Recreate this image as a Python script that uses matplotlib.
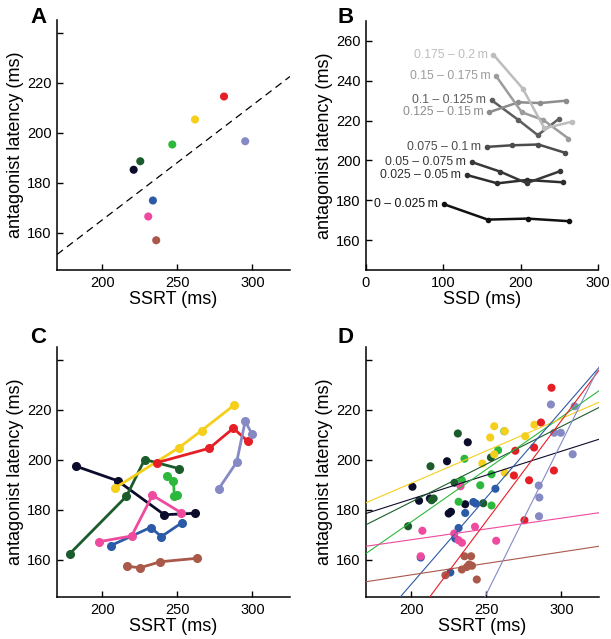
import numpy as np
import matplotlib.pyplot as plt

plt.rcParams['font.family'] = ['Liberation Sans', 'DejaVu Sans']

# subject order: black, dark green, green, yellow, blue, pink, brown, red, lavender
subject_colors = ['#0b0b2b', '#1c5c2c', '#2cb83c', '#f5cf1c', '#2b5aa6',
                  '#ee4a9e', '#a9584a', '#e61f26', '#8589c4']

# A: mean SSRT vs mean antagonist latency
mean_ssrt = [221.0, 225.4, 246.7, 261.8, 233.8, 230.7, 236.0, 281.1, 295.2]
mean_lat = [185.1, 188.5, 195.2, 205.2, 172.8, 166.4, 156.9, 214.4, 196.5]
diag_x = [170, 325]
diag_y = [151.2, 222.4]

# B: latency vs SSD per distance bin
bin_labels = ['0 – 0.025\u2009m', '0.025 – 0.05\u2009m', '0.05 – 0.075\u2009m', '0.075 – 0.1\u2009m',
              '0.1 – 0.125\u2009m', '0.125 – 0.15\u2009m', '0.15 – 0.175\u2009m', '0.175 – 0.2\u2009m']
bin_colors = ['#111111', '#2e2e2e', '#383838', '#4c4c4c', '#5e5e5e', '#8c8c8c', '#9c9c9c', '#bdbdbd']
ssd = [
    [100.9, 157.4, 209.1, 262.6],
    [130.2, 169.9, 207.8, 255.3],
    [136.7, 173.4, 207.8, 251.0],
    [156.1, 188.4, 222.9, 257.0],
    [162.6, 197.1, 222.1, 249.2],
    [159.1, 197.1, 225.1, 258.3],
    [168.2, 201.4, 229.4, 261.8],
    [164.7, 202.7, 230.7, 266.9],
]
bin_lat = [
    [178.0, 170.3, 170.8, 169.5],
    [192.7, 188.5, 190.2, 189.0],
    [199.2, 194.4, 188.6, 194.6],
    [206.8, 207.6, 208.0, 203.9],
    [230.2, 220.3, 212.7, 220.8],
    [224.2, 229.2, 228.8, 230.0],
    [242.4, 224.2, 220.3, 211.0],
    [253.1, 236.1, 216.1, 219.5],
]

# C: binned SSRT vs latency per subject
c_ssrt = [
    [182.7, 210.3, 241.4, 262.0],
    [178.5, 216.2, 228.3, 250.9],
    [243.0, 247.4, 248.1, 249.6],
    [208.3, 251.3, 266.2, 287.7],
    [205.9, 232.2, 239.5, 253.3],
    [197.8, 219.6, 233.5, 252.6],
    [216.4, 225.2, 238.8, 263.4],
    [236.2, 271.3, 287.3, 296.9],
    [277.6, 289.5, 295.2, 299.6],
]
c_lat = [
    [197.3, 191.5, 177.9, 178.5],
    [162.3, 185.3, 200.0, 196.4],
    [193.6, 191.6, 185.3, 185.7],
    [188.5, 204.8, 211.6, 221.7],
    [165.6, 172.8, 169.2, 174.8],
    [167.1, 169.4, 185.7, 178.7],
    [157.3, 156.7, 159.1, 160.5],
    [198.7, 204.5, 212.5, 207.3],
    [188.3, 198.9, 215.3, 210.3],
]

# D: single sessions with linear fits
d_ssrt = [
    [200.9, 205.3, 212.5, 223.9, 237.7, 236.0, 226.5, 225.0],
    [212.9, 231.1, 228.9, 213.6, 215.0, 198.0, 248.0, 253.1],
    [235.5, 233.8, 231.6, 246.0, 253.5, 253.5, 257.9, 262.0],
    [247.4, 252.6, 255.3, 255.3, 262.3, 262.3, 275.9, 282.0],
    [241.4, 236.0, 231.6, 229.4, 206.4, 226.1, 243.0, 256.1],
    [232.9, 207.5, 228.7, 231.6, 233.8, 206.4, 242.5, 256.6],
    [222.8, 235.5, 239.9, 233.8, 237.1, 238.6, 243.7, 240.5],
    [269.3, 268.4, 278.5, 281.8, 275.4, 286.4, 293.4, 295.0],
    [293.0, 295.2, 299.6, 284.9, 285.3, 285.1, 307.5, 308.8],
]
d_lat = [
    [189.1, 183.5, 184.4, 199.3, 206.9, 182.1, 179.1, 178.4],
    [197.3, 210.4, 190.7, 183.7, 184.4, 173.3, 182.5, 200.8],
    [200.3, 191.7, 183.1, 189.7, 181.6, 194.1, 203.7, 211.3],
    [198.4, 208.8, 213.3, 202.1, 211.3, 194.7, 209.3, 213.9],
    [183.0, 178.6, 172.6, 168.4, 160.8, 154.8, 182.4, 188.3],
    [189.3, 171.5, 170.4, 167.7, 166.7, 161.3, 173.1, 167.5],
    [153.7, 161.3, 161.3, 156.0, 157.0, 158.0, 152.0, 157.5],
    [203.5, 193.6, 191.7, 204.8, 175.7, 214.8, 228.7, 195.6],
    [222.0, 210.7, 210.7, 189.6, 184.8, 177.3, 202.1, 221.3],
]
fit_x = [170, 325]
fit_lo = [178.4, 173.9, 162.4, 182.7, 129.2, 165.3, 151.1, 110.9, 49.1]
fit_hi = [208.1, 220.8, 227.5, 222.9, 236.8, 178.7, 165.3, 235.7, 237.0]


def style(ax, xlim, ylim, xticks, yticks, ylabels, xlabel):
    ax.set_xlim(xlim)
    ax.set_ylim(ylim)
    ax.set_xticks(xticks)
    ax.set_yticks(yticks)
    ax.set_yticklabels(ylabels)
    ax.spines['top'].set_visible(False)
    ax.spines['right'].set_visible(False)
    for s in ['left', 'bottom']:
        ax.spines[s].set_linewidth(1.1)
    ax.tick_params(direction='in', length=4.5, width=1.0, labelsize=10.5, pad=4)
    ax.set_xlabel(xlabel, fontsize=13, labelpad=1)
    ax.set_ylabel('antagonist latency (ms)', fontsize=13, labelpad=2)


fig = plt.figure(figsize=(6.11, 6.39), dpi=100)
W, H = 611, 639
def add_ax(l, r, t, b):
    return fig.add_axes([l / W, 1 - b / H, (r - l) / W, (b - t) / H])

axA = add_ax(57, 290, 20, 270)
axB = add_ax(366, 598, 21, 270)
axC = add_ax(57, 290, 347, 597)
axD = add_ax(366, 599, 347, 597)

ssrt_ticks = [200, 250, 300]
lat_ticks = [160, 180, 200, 220, 240]
lat_labels = ['160', '180', '200', '220', '']

# A
axA.plot(diag_x, diag_y, '--', color='black', lw=0.9, dashes=(6, 4))
axA.scatter(mean_ssrt, mean_lat, s=34, c=subject_colors, edgecolors='none', zorder=3)
style(axA, (170, 325), (145, 245), ssrt_ticks, lat_ticks, lat_labels, 'SSRT (ms)')

# B
for i in range(len(bin_labels)):
    axB.plot(ssd[i], bin_lat[i], '-o', color=bin_colors[i], lw=1.8, ms=3)
    axB.annotate(bin_labels[i], (ssd[i][0], bin_lat[i][0]), xytext=(-4, 0),
                 textcoords='offset points', ha='right', va='center',
                 fontsize=8.8, color=bin_colors[i])
style(axB, (0, 300), (145, 270), [0, 100, 200, 300], [160, 180, 200, 220, 240, 260],
      ['160', '180', '200', '220', '240', '260'], 'SSD (ms)')

# C
for i in range(len(subject_colors)):
    axC.plot(c_ssrt[i], c_lat[i], '-o', color=subject_colors[i], lw=2, ms=5.5)
style(axC, (170, 325), (145, 245), ssrt_ticks, lat_ticks, lat_labels, 'SSRT (ms)')

# D
for i in range(len(subject_colors)):
    axD.scatter(d_ssrt[i], d_lat[i], s=34, color=subject_colors[i], edgecolors='none', zorder=2)
for i in range(len(subject_colors)):
    axD.plot(fit_x, [fit_lo[i], fit_hi[i]], color=subject_colors[i], lw=0.8, zorder=3)
style(axD, (170, 325), (145, 245), ssrt_ticks, lat_ticks, lat_labels, 'SSRT (ms)')

for ax, letter, x, y in [(axA, 'A', 30, 23), (axB, 'B', 337, 23), (axC, 'C', 30, 343), (axD, 'D', 337, 343)]:
    fig.text(x / W, 1 - y / H, letter, fontsize=16, fontweight='bold', ha='left', va='baseline')

fig.savefig('out.png', dpi=100)
